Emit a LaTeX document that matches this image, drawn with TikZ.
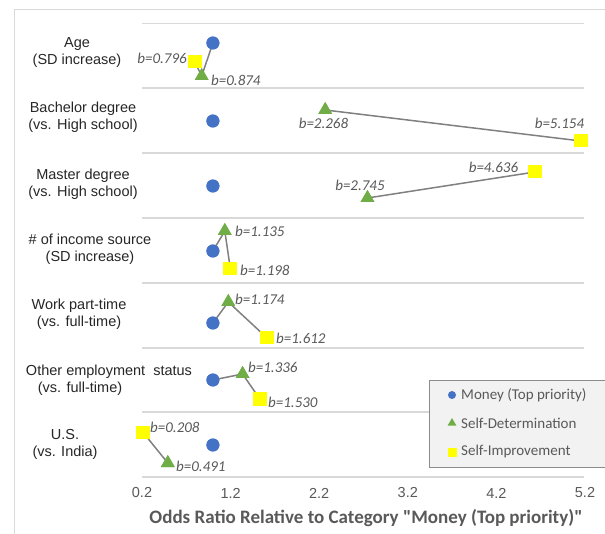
\documentclass[tikz,border=0pt]{standalone}
\usepackage{fontspec}
\setmainfont{Carlito}[Ligatures=TeXOff]
\newfontfamily\arialf{Liberation Sans}
\usetikzlibrary{shapes.geometric}
\definecolor{cblue}{HTML}{4472C4}
\definecolor{cgreen}{HTML}{70AD47}
\definecolor{cyellow}{HTML}{FFFF00}
\definecolor{cgrid}{HTML}{D9D9D9}
\definecolor{ctext}{HTML}{595959}
\definecolor{cline}{HTML}{808080}
\begin{document}
\begin{tikzpicture}[x=1pt,y=-1pt,
  dot/.style={circle,fill=cblue,inner sep=0pt,minimum size=13pt},
  tri/.style={regular polygon,regular polygon sides=3,fill=cgreen,inner sep=0pt,minimum size=16pt},
  sq/.style={rectangle,fill=cyellow,inner sep=0pt,minimum width=14pt,minimum height=13pt},
  ldot/.style={circle,fill=cblue,inner sep=0pt,minimum size=8pt},
  ltri/.style={regular polygon,regular polygon sides=3,fill=cgreen,inner sep=0pt,minimum size=10pt},
  lsq/.style={rectangle,fill=cyellow,inner sep=0pt,minimum size=9pt},
  blab/.style={font=\fontsize{15}{17}\selectfont\itshape,text=ctext,inner sep=0pt},
  cat/.style={font=\arialf\fontsize{14.5}{17}\selectfont,text=black!85,align=center,inner sep=0pt},
  tick/.style={font=\arialf\fontsize{14.5}{17}\selectfont,text=ctext,inner sep=0pt},
  leg/.style={font=\fontsize{15}{17}\selectfont,text=ctext,inner sep=0pt,anchor=west},
  conn/.style={draw=cline,line width=1.5pt},
  grid/.style={draw=cgrid,line width=1.3pt}
]
\useasboundingbox (0,0) rectangle (605,534);
% frame
\coordinate (f1) at (14,534);
\coordinate (f2) at (14,10);
\coordinate (f3) at (605,10);
\draw[cgrid,line width=1pt] (f1) -- (f2) -- (f3);
% gridlines
\foreach \y [count=\i] in {23.5,88,153,218,283,348,412,477}{
  \coordinate (gl\i) at (142,\y);
  \coordinate (gr\i) at (584,\y);
  \draw[grid] (gl\i) -- (gr\i);
}
% category labels
\node[cat] (c1) at (77,52.5) {Age\\(SD increase)};
\node[cat] (c2) at (83,117.5) {Bachelor degree\\(vs. High school)};
\node[cat] (c3) at (83,184) {Master degree\\(vs. High school)};
\node[cat] (c4) at (90,249) {\# of income source\\(SD increase)};
\node[cat] (c5) at (79,314.5) {Work part-time\\(vs. full-time)};
\node[cat] (c6a) at (109,372) {Other employment\ \ status};
\node[cat] (c6b) at (80,388.5) {(vs. full-time)};
\node[cat] (c7) at (65,444) {U.S.\\(vs. India)};
% points
\node[dot] (m1) at (212.9,43) {};
\node[sq]  (s1) at (194.8,62) {};
\node[tri] (t1) at (201.7,76) {};
\node[dot] (m2) at (212.9,121) {};
\node[tri] (t2) at (325.2,110) {};
\node[sq]  (s2) at (580.9,141) {};
\node[dot] (m3) at (212.9,186) {};
\node[tri] (t3) at (367.5,198) {};
\node[sq]  (s3) at (535.0,172) {};
\node[dot] (m4) at (212.9,251) {};
\node[tri] (t4) at (224.8,231) {};
\node[sq]  (s4) at (230.4,269) {};
\node[dot] (m5) at (212.9,323) {};
\node[tri] (t5) at (228.3,302) {};
\node[sq]  (s5) at (267.1,338) {};
\node[dot] (m6) at (212.9,380) {};
\node[tri] (t6) at (242.6,374) {};
\node[sq]  (s6) at (259.8,399) {};
\node[dot] (m7) at (212.9,445) {};
\node[sq]  (s7) at (142.7,432) {};
\node[tri] (t7) at (167.8,463) {};
% connectors
\draw[conn] (m1.center) -- (t1.center) (s1.center) -- (t1.center);
\draw[conn] (t2.center) -- (s2.center);
\draw[conn] (t3.center) -- (s3.center);
\draw[conn] (m4.center) -- (t4.center) -- (s4.center);
\draw[conn] (m5.center) -- (t5.center) -- (s5.center);
\draw[conn] (m6.center) -- (t6.center) -- (s6.center);
\draw[conn] (s7.center) -- (t7.center);
% redraw markers on top of the connectors
\foreach \n/\s in {m1/dot,s1/sq,t1/tri,m2/dot,t2/tri,s2/sq,m3/dot,t3/tri,s3/sq,m4/dot,t4/tri,s4/sq,m5/dot,t5/tri,s5/sq,m6/dot,t6/tri,s6/sq,m7/dot,s7/sq,t7/tri}{
  \node[\s] at (\n) {};
}
% b labels
\node[blab,anchor=east] (b1a) at (187,58) {b=0.796};
\node[blab,anchor=west] (b1b) at (211,80) {b=0.874};
\node[blab] (b2a) at (323.5,123) {b=2.268};
\node[blab] (b2b) at (559.5,123) {b=5.154};
\node[blab] (b3a) at (493.5,167) {b=4.636};
\node[blab] (b3b) at (360,185) {b=2.745};
\node[blab,anchor=west] (b4a) at (235,231) {b=1.135};
\node[blab,anchor=west] (b4b) at (240,270) {b=1.198};
\node[blab,anchor=west] (b5a) at (235,299) {b=1.174};
\node[blab,anchor=west] (b5b) at (276,338) {b=1.612};
\node[blab,anchor=west] (b6a) at (248,367) {b=1.336};
\node[blab,anchor=west] (b6b) at (268,402) {b=1.530};
\node[blab,anchor=west] (b7a) at (150,427) {b=0.208};
\node[blab,anchor=west] (b7b) at (176,466) {b=0.491};
% ticks
\foreach \v [count=\i] in {0.2,1.2,2.2,3.2,4.2,5.2}{
  \node[tick] (tk\i) at ({142+88.6*(\i-1)},493) {\v};
}
\node[font=\fontsize{19}{22}\selectfont\bfseries,text=ctext,inner sep=0pt] (title) at (366,518) {Odds Ratio Relative to Category "Money (Top priority)"};
% legend
\node[draw=black!45,fill=black!5,line width=0.8pt,minimum width=178pt,minimum height=87pt,anchor=north west,inner sep=0pt] (legbox) at (429,380) {};
\node[ldot] (lm) at (452,395) {};
\node[leg] (lmt) at (461,395) {Money (Top priority)};
\node[ltri] (lt) at (452,423) {};
\node[leg] (ltt) at (461,423) {Self-Determination};
\node[lsq] (ls) at (452,452) {};
\node[leg] (lst) at (461,452) {Self-Improvement};
\end{tikzpicture}
\end{document}
